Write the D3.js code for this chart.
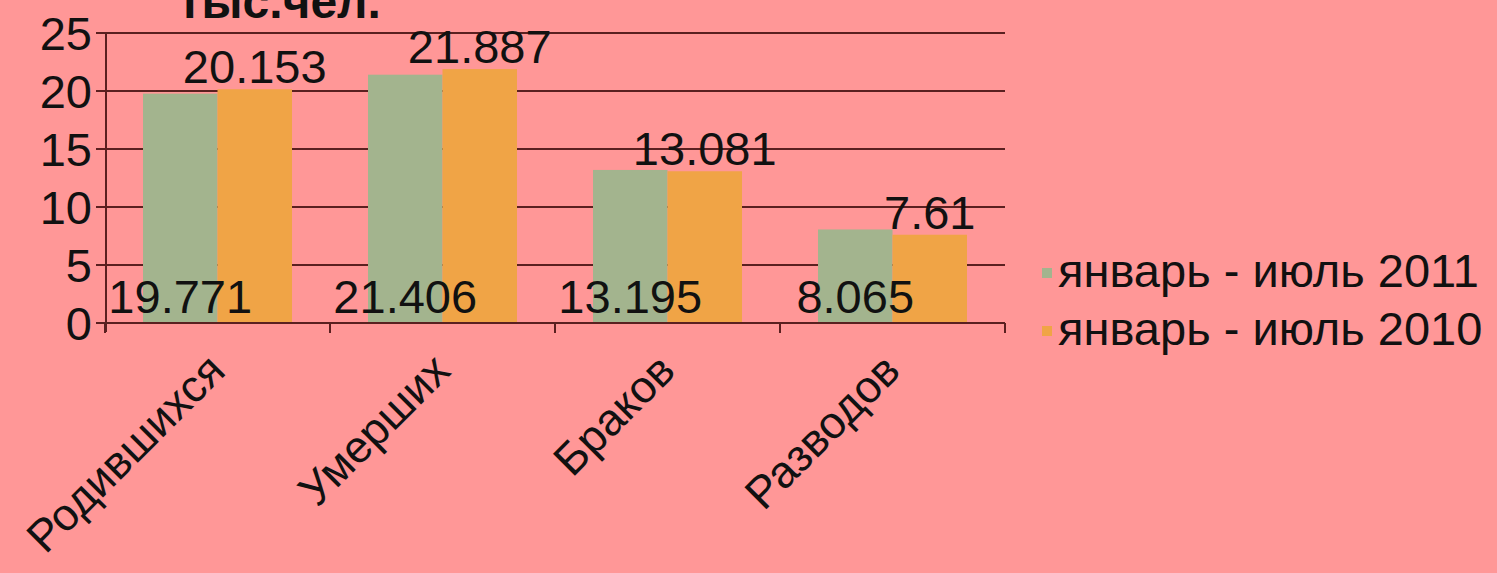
<!DOCTYPE html>
<html>
<head>
<meta charset="utf-8">
<script src="https://cdn.jsdelivr.net/npm/d3@7"></script>
<style>
    html, body { margin: 0; padding: 0; background: #ff9797; }
    svg text { font-family: "Liberation Sans", Arial, sans-serif; fill: #111; }
</style>
</head>
<body>
<svg id="chart" width="1497" height="573"></svg>
<script>
var categories = ["Родившихся", "Умерших", "Браков", "Разводов"];
var seriesNames = ["январь - июль 2011", "январь - июль 2010"];
var values2011 = [19.771, 21.406, 13.195, 8.065];
var values2010 = [20.153, 21.887, 13.081, 7.61];
var yTicks = [0, 5, 10, 15, 20, 25];
var title = "тыс.чел.";

var colors = ["#a3b48e", "#f0a446"];
var lineColor = "#5a2020";

var svg = d3.select("#chart");
svg.append("rect").attr("width", 1497).attr("height", 573).attr("fill", "#ff9797");

var y = d3.scaleLinear().domain([0, 25]).range([323, 33]);
var x0 = d3.scaleBand().domain(categories).range([105, 1005]);
var x1 = d3.scaleBand().domain(seriesNames).range([0, x0.bandwidth()]).paddingOuter(0.51);

var rows = categories.map(function (c, i) {
    return { cat: c, vals: [values2011[i], values2010[i]] };
});

// gridlines behind the bars
svg.append("g")
    .selectAll("line")
    .data(yTicks)
    .enter()
    .append("line")
    .attr("x1", 96)
    .attr("x2", 1005)
    .attr("y1", function (d) { return y(d); })
    .attr("y2", function (d) { return y(d); })
    .attr("stroke", lineColor)
    .attr("stroke-width", 2);

// bars
var groups = svg.append("g")
    .selectAll("g")
    .data(rows)
    .enter()
    .append("g")
    .attr("transform", function (d) { return "translate(" + x0(d.cat) + ",0)"; });

groups.selectAll("rect")
    .data(function (d) { return d.vals.map(function (v, j) { return { s: seriesNames[j], v: v, j: j }; }); })
    .enter()
    .append("rect")
    .attr("x", function (d) { return x1(d.s); })
    .attr("width", x1.bandwidth())
    .attr("y", function (d) { return y(d.v); })
    .attr("height", function (d) { return y(0) - y(d.v); })
    .attr("fill", function (d) { return colors[d.j]; });

// y axis
svg.append("line")
    .attr("x1", 106).attr("x2", 106)
    .attr("y1", y(25)).attr("y2", y(0) + 9)
    .attr("stroke", lineColor).attr("stroke-width", 2);

svg.append("g")
    .selectAll("text")
    .data(yTicks)
    .enter()
    .append("text")
    .attr("x", 92)
    .attr("y", function (d) { return y(d); })
    .attr("dy", "0.36em")
    .attr("text-anchor", "end")
    .style("font-size", "47px")
    .text(function (d) { return d; });

// x axis
svg.append("line")
    .attr("x1", 105).attr("x2", 1005)
    .attr("y1", y(0)).attr("y2", y(0))
    .attr("stroke", lineColor).attr("stroke-width", 2);

var xTickPos = categories.map(function (c) { return x0(c); }).concat([x0.range()[1]]);
svg.append("g")
    .selectAll("line")
    .data(xTickPos)
    .enter()
    .append("line")
    .attr("x1", function (d) { return d; })
    .attr("x2", function (d) { return d; })
    .attr("y1", y(0))
    .attr("y2", y(0) + 10)
    .attr("stroke", lineColor)
    .attr("stroke-width", 2);

svg.append("g")
    .selectAll("text")
    .data(categories)
    .enter()
    .append("text")
    .attr("text-anchor", "end")
    .attr("transform", function (d) {
        var cx = x0(d) + x0.bandwidth() / 2 + 10;
        return "translate(" + cx + ",373) rotate(-45)";
    })
    .style("font-size", "45px")
    .text(function (d) { return d; });

// data labels: 2011 at the base inside, 2010 above the bar
groups.append("text")
    .attr("x", function () { return x1(seriesNames[0]) + x1.bandwidth() / 2; })
    .attr("y", y(0) - 10)
    .attr("text-anchor", "middle")
    .style("font-size", "47px")
    .text(function (d) { return d.vals[0]; });

groups.append("text")
    .attr("x", function () { return x1(seriesNames[1]) + x1.bandwidth() / 2; })
    .attr("y", function (d) { return y(d.vals[1]) - 6; })
    .attr("text-anchor", "middle")
    .style("font-size", "47px")
    .text(function (d) { return d.vals[1]; });

// title, cut at the top edge
svg.append("text")
    .attr("x", 178)
    .attr("y", 18)
    .style("font-size", "48px")
    .style("font-weight", "bold")
    .text(title);

// legend
var legend = svg.append("g")
    .selectAll("g")
    .data(seriesNames)
    .enter()
    .append("g")
    .attr("transform", function (d, i) { return "translate(1042," + (287 + i * 58) + ")"; });

legend.append("rect")
    .attr("x", 0)
    .attr("y", -19)
    .attr("width", 10)
    .attr("height", 10)
    .attr("fill", function (d, i) { return colors[i]; });

legend.append("text")
    .attr("x", 16)
    .attr("y", 0)
    .style("font-size", "47px")
    .text(function (d) { return d; });
</script>
</body>
</html>
